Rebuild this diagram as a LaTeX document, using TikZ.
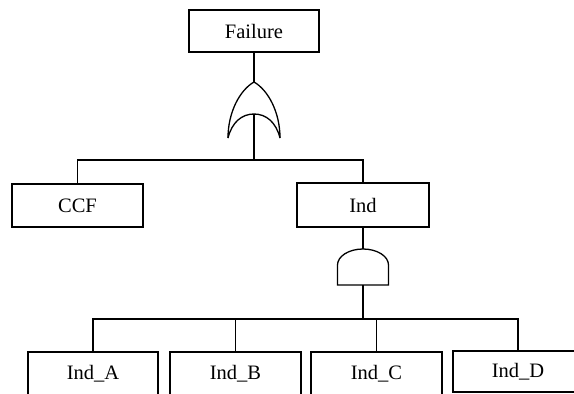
\documentclass[tikz,border=0pt]{standalone}
\usepackage{fontspec}
\setmainfont{Liberation Serif}
\begin{document}
\begin{tikzpicture}[x=1pt,y=-1pt,
  line width=1.3pt,
  evbox/.style={draw, rectangle, inner sep=0pt, minimum width=130pt, minimum height=43pt,
    font=\fontsize{20.5}{24}\selectfont}]
\clip (0,0) rectangle (574,394);
\fill[white] (0,0) rectangle (574,394);
% boxes
\node[evbox, minimum height=42pt] (fail) at (254,31) {Failure};
\node[evbox, minimum width=131pt] (ccf) at (77.5,205.5) {CCF};
\node[evbox, minimum width=132pt, minimum height=44pt] (ind) at (363,205) {Ind};
\node[evbox] (a) at (93,373.5) {Ind\_A};
\node[evbox, minimum width=131pt] (b) at (235.5,373.5) {Ind\_B};
\node[evbox, minimum width=131pt] (c) at (376.5,373.5) {Ind\_C};
\node[evbox, minimum height=41pt] (d) at (518,371.5) {Ind\_D};
% OR gate
\coordinate (ortop) at (254,82);
\coordinate (orl) at (228,138);
\coordinate (orr) at (280,138);
\coordinate (orin) at (254,114);
\coordinate (orbar) at (254,160);
\draw (orl) .. controls (228,112) and (240,90) .. (ortop)
      .. controls (268,90) and (280,112) .. (orr);
\draw (orl) .. controls (232,122) and (242,114) .. (orin)
      .. controls (266,114) and (276,122) .. (orr);
\draw (fail.south) -- (ortop);
\draw (orin) -- (orbar);
\draw (orbar) -| (ccf.north);
\draw (orbar) -| (ind.north);
% AND gate
\coordinate (andtop) at (363,249);
\coordinate (andbot) at (363,285);
\coordinate (andbar) at (363,319);
\draw (337.5,265) -- (337.5,285) -- (388.5,285) -- (388.5,265)
      arc[start angle=0, end angle=-180, x radius=25.5, y radius=16];
\draw (ind.south) -- (andtop);
\draw (andbot) -- (andbar);
\draw (andbar) -| (a.north);
\draw (andbar) -| (b.north);
\draw (andbar) -| (c.north);
\draw (andbar) -| (d.north);
\end{tikzpicture}
\end{document}
